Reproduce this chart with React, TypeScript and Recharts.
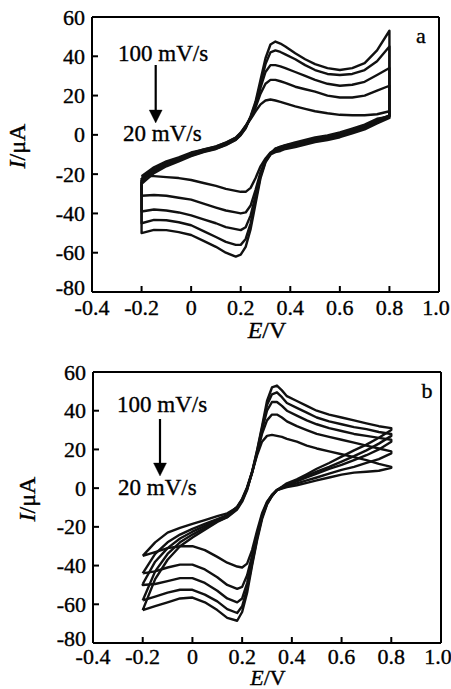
import React from 'react';
import { LineChart, Line, XAxis, YAxis, ReferenceLine } from 'recharts';

// Shared potential grid (V) – forward (upper) and reverse (lower) branches sampled on it
const potentials = [-0.2, -0.15, -0.1, -0.05, 0, 0.05, 0.1, 0.14, 0.18, 0.2, 0.22, 0.24, 0.26, 0.28, 0.3, 0.32, 0.34, 0.36, 0.38, 0.42, 0.46, 0.5, 0.55, 0.6, 0.65, 0.7, 0.75, 0.8];
const scanRates = ['20 mV/s', '40 mV/s', '60 mV/s', '80 mV/s', '100 mV/s'];

const xTicks = [-0.4, -0.2, 0, 0.2, 0.4, 0.6, 0.8, 1.0];
const yTicks = [-80, -60, -40, -20, 0, 20, 40, 60];

// Panel a – current (µA)
const upperA20 = [-21, -16.5, -13.5, -11.5, -9, -7.5, -6, -4, -1.5, 1, 4.5, 8, 12, 15.5, 17.5, 18, 17.5, 16.8, 16, 14.5, 13.2, 12, 11, 10.2, 10, 10, 10.5, 12];
const upperA40 = [-22, -17.5, -14.5, -12, -9.5, -8, -6.5, -4.5, -2, 0.5, 4, 8.5, 14, 21, 26, 28, 28, 27.3, 26.5, 24.5, 23.2, 22, 20, 19, 19, 20, 22.5, 25];
const upperA60 = [-23, -18.5, -15.5, -13, -10.5, -8.5, -7, -5, -2.5, 0, 3.5, 9, 15, 24, 32, 35.5, 35.5, 34.9, 34, 32, 30, 28, 26, 25, 25.5, 27, 30.5, 34];
const upperA80 = [-24, -17.8, -14.4, -12, -9.4, -7.4, -5.9, -3.9, -1.4, 1.1, 4.6, 9, 16, 26, 36, 42, 43, 42.2, 41, 38.5, 35.5, 33, 31, 30.5, 31, 33, 37.5, 45];
const upperA100 = [-25, -19.5, -16, -13.5, -10.8, -8.8, -7.2, -5.2, -2.6, -0.1, 3.4, 9.5, 17, 28, 39, 46, 47.5, 46.5, 45, 41.5, 38.5, 36, 34, 33, 34, 36.5, 43, 53];

const lowerA20 = [-21, -21, -21.5, -22, -23, -24.5, -26, -27.5, -28.5, -29, -29, -27, -22, -16, -12, -9, -7.5, -6.8, -6, -5, -3.8, -2.5, -1.5, 0, 2, 4, 7, 10];
const lowerA40 = [-31, -30.6, -31, -32, -33, -35, -37, -38.5, -39.5, -40, -39.5, -36, -28, -19, -13, -9.5, -8, -7.4, -6.6, -5.6, -4.4, -3.1, -2.1, -0.6, 1.4, 3.4, 6.4, 9.5];
const lowerA60 = [-39, -38, -38.5, -39.5, -41, -43, -45, -47, -48, -48.5, -47, -41, -31, -20, -13, -9.5, -7, -6.2, -5.4, -4.4, -3.2, -1.9, -0.9, 0.6, 2.6, 4.6, 7.6, 9.8];
const lowerA80 = [-45, -43.3, -43.5, -44.5, -46, -49, -52, -54.5, -56, -56, -53, -45, -33, -21, -13.5, -10, -8.8, -8.2, -7.2, -6.2, -5, -3.7, -2.7, -1.2, 0.8, 2.8, 5.8, 8.6];
const lowerA100 = [-50, -48.4, -48.5, -49.5, -51, -54, -57, -60, -62, -61, -57, -48, -35, -22, -14, -10, -7, -6, -5.3, -3.8, -2.6, -1.3, -0.3, 1.2, 3.2, 5.2, 8.2, 9.3];

// Panel b – current (µA)
const upperB20 = [-35, -28, -23, -20.5, -18.5, -16.5, -14.5, -13, -10, -6, 0, 8, 17, 24, 27, 27.5, 27, 26.5, 25.5, 24, 22, 20.5, 19, 17.5, 16, 14.5, 12.5, 11];
const upperB40 = [-44, -34, -28, -24, -21, -18.5, -16, -14, -9.5, -5.5, 0.5, 8.5, 18, 28, 35, 38, 38, 36.5, 34.5, 32, 30, 28, 26.5, 25, 23.5, 22, 20.5, 19];
const upperB60 = [-49.5, -38, -31, -26, -22.5, -19.5, -16.5, -14.5, -10, -6, 0, 8, 18, 30, 40, 44.5, 44.5, 42.5, 40, 37.5, 35, 33, 31, 29.5, 28, 27, 26, 25];
const upperB80 = [-58, -43, -34, -28, -24, -20.5, -17, -15, -10.5, -6.5, -0.5, 8, 19, 31, 43, 48.5, 49.5, 47, 44, 41.5, 39, 36.5, 34.5, 33, 31.5, 30.5, 29, 28];
const upperB100 = [-63, -47, -37, -30, -25.5, -21.5, -17.5, -15, -11, -7, -1, 8.5, 19.5, 32, 45, 52, 53, 50.5, 47.5, 45, 42.5, 40, 38, 36.5, 35, 33.5, 32, 31];

const lowerB20 = [-35, -33, -31, -30, -30, -32, -35.5, -38.5, -40.5, -41, -39, -32, -22, -13, -7, -3.5, -1, -0.2, 0.5, 1.5, 2.7, 4, 5.5, 7, 8, 8.5, 9, 10.5];
const lowerB40 = [-44, -43, -41, -39.5, -39.5, -42, -46, -50, -52, -51, -45, -35, -24, -14, -7.5, -3.5, -1, 0, 1, 2.5, 4, 5.5, 7.5, 9.4, 11, 13, 15, 18];
const lowerB60 = [-50, -49.5, -48, -46.5, -46.5, -49, -53, -57, -59, -57, -49, -37, -25, -15, -8, -4, -1, 0.2, 1.5, 3.5, 5.5, 7.5, 10, 12, 14.5, 17, 20, 24];
const lowerB80 = [-58, -56, -54, -52.5, -52.5, -55, -58.5, -62.5, -64.5, -61, -52, -39, -26, -15, -8, -4, -1, 0.5, 2, 4, 6.3, 8.5, 11, 13.7, 16.5, 19.5, 23, 27];
const lowerB100 = [-63, -61, -59, -57, -56.5, -59, -63, -67, -68.5, -64, -54, -40, -27, -16, -8.5, -4, -1, 0.7, 2.5, 4.5, 7.2, 10, 13, 16.3, 19.5, 22.5, 26, 30];

const upperA = [upperA20, upperA40, upperA60, upperA80, upperA100];
const lowerA = [lowerA20, lowerA40, lowerA60, lowerA80, lowerA100];
const upperB = [upperB20, upperB40, upperB60, upperB80, upperB100];
const lowerB = [lowerB20, lowerB40, lowerB60, lowerB80, lowerB100];

// Build one closed voltammogram loop: forward sweep then reverse sweep
function buildLoop(upper: number[], lower: number[]) {
  const fwd = upper.map((v, k) => ({ e: potentials[k], i: v }));
  const rev = lower.map((v, k) => ({ e: potentials[k], i: v })).reverse();
  return [...fwd, ...rev, fwd[0]];
}

const FONT = '"Liberation Serif", "Times New Roman", serif';
const TICK_FS = 22;
const Y_MARGIN = 7;

const fmtX = (v: number) => (Math.abs(v) < 1e-9 ? '0' : v.toFixed(1));

const makeXTick = (margin: number) => (props: any) => {
  const { x, y, payload } = props;
  const axisY = y - margin;
  const lx = payload.value >= 0.99 ? x - 3 : x;
  return (
    <g>
      <line x1={x} x2={x} y1={axisY} y2={axisY - 6} stroke="#000" strokeWidth={2} />
      <text x={lx} y={axisY + margin} textAnchor="middle" dominantBaseline="central"
        fontFamily={FONT} fontSize={TICK_FS} fill="#000" stroke="#000" strokeWidth={0.35}>{fmtX(payload.value)}</text>
    </g>
  );
};

const YTick = (props: any) => {
  const { x, y, payload } = props;
  const axisX = x + Y_MARGIN;
  return (
    <g>
      <line x1={axisX} x2={axisX + 6} y1={y} y2={y} stroke="#000" strokeWidth={2} />
      <text x={axisX - Y_MARGIN} y={payload.value === -80 ? y - 5 : y} textAnchor="end" dominantBaseline="central"
        fontFamily={FONT} fontSize={TICK_FS} fill="#000" stroke="#000" strokeWidth={0.35}>{String(payload.value)}</text>
    </g>
  );
};

function Panel({ upper, lower, height, margin, xAxisHeight, xMargin }: any) {
  const XTick = makeXTick(xMargin);
  return (
    <LineChart width={451} height={height} margin={margin}>
      <XAxis type="number" dataKey="e" domain={[-0.4, 1.0]} ticks={xTicks}
        height={xAxisHeight} tickSize={0} tickMargin={xMargin} tickLine={false}
        axisLine={{ stroke: '#000', strokeWidth: 2 }} tick={<XTick />} interval={0}
        allowDataOverflow />
      <YAxis type="number" dataKey="i" domain={[-80, 60]} ticks={yTicks}
        width={80} tickSize={0} tickMargin={Y_MARGIN} tickLine={false}
        axisLine={{ stroke: '#000', strokeWidth: 2 }} tick={<YTick />} interval={0}
        allowDataOverflow />
      <ReferenceLine y={60} stroke="#000" strokeWidth={2} />
      <ReferenceLine x={1.0} stroke="#000" strokeWidth={2} />
      {scanRates.map((name, k) => (
        <Line key={name} name={name} data={buildLoop(upper[k], lower[k])} dataKey="i"
          type="linear" stroke="#111" strokeWidth={2.4} dot={false}
          strokeLinejoin="round" isAnimationActive={false} />
      ))}
    </LineChart>
  );
}

function Annotations({ top, rateTopY, rateTopX, rateBotY, rateBotX, arrowX, arrowY1, arrowY2, letter, letterX, letterY, evX, evY, evFs, iaX, iaY }: any) {
  return (
    <g fontFamily={FONT} fill="#000" stroke="#000" strokeWidth={0.35}>
      <text x={rateTopX} y={top + rateTopY} dominantBaseline="central" fontSize={23}>100 mV/s</text>
      <text x={rateBotX} y={top + rateBotY} dominantBaseline="central" fontSize={23}>20 mV/s</text>
      <line x1={arrowX} x2={arrowX} y1={top + arrowY1} y2={top + arrowY2 - 10} stroke="#000" strokeWidth={2.2} />
      <polygon points={`${arrowX - 6.5},${top + arrowY2 - 13} ${arrowX + 6.5},${top + arrowY2 - 13} ${arrowX},${top + arrowY2}`} fill="#000" />
      <text x={letterX} y={top + letterY} textAnchor="middle" dominantBaseline="central" fontSize={22}>{letter}</text>
      <text x={evX} y={top + evY} textAnchor="middle" dominantBaseline="central" fontSize={evFs}>
        <tspan fontStyle="italic">E</tspan>/V
      </text>
      <text x={iaX} y={top + iaY} textAnchor="middle" dominantBaseline="central" fontSize={24}
        transform={`rotate(-90 ${iaX} ${top + iaY})`}>
        <tspan fontStyle="italic">I</tspan>/μA
      </text>
    </g>
  );
}

export default function App() {
  return (
    <div style={{ position: 'absolute', left: 0, top: 0, width: 451, height: 689, background: '#fff', overflow: 'hidden' }}>
      <div style={{ position: 'absolute', left: 0, top: 0 }}>
        <Panel upper={upperA} lower={lowerA} height={345} xMargin={15}
          margin={{ top: 17, right: 12, bottom: 0, left: 12 }} xAxisHeight={53} />
      </div>
      <div style={{ position: 'absolute', left: 0, top: 345 }}>
        <Panel upper={upperB} lower={lowerB} height={344} xMargin={13}
          margin={{ top: 27, right: 10, bottom: 0, left: 13 }} xAxisHeight={46} />
      </div>
      <svg width={451} height={689} style={{ position: 'absolute', left: 0, top: 0, pointerEvents: 'none' }}>
        <Annotations top={0} rateTopX={118} rateTopY={53} rateBotX={123} rateBotY={133.5}
          arrowX={155.7} arrowY1={65} arrowY2={123} letter="a" letterX={421} letterY={35}
          evX={267} evY={330} evFs={24} iaX={17} iaY={146} />
        <Annotations top={345} rateTopX={117} rateTopY={59} rateBotX={118} rateBotY={142}
          arrowX={160} arrowY1={74} arrowY2={131} letter="b" letterX={427} letterY={45}
          evX={268} evY={332} evFs={22} iaX={27} iaY={154} />
      </svg>
    </div>
  );
}
